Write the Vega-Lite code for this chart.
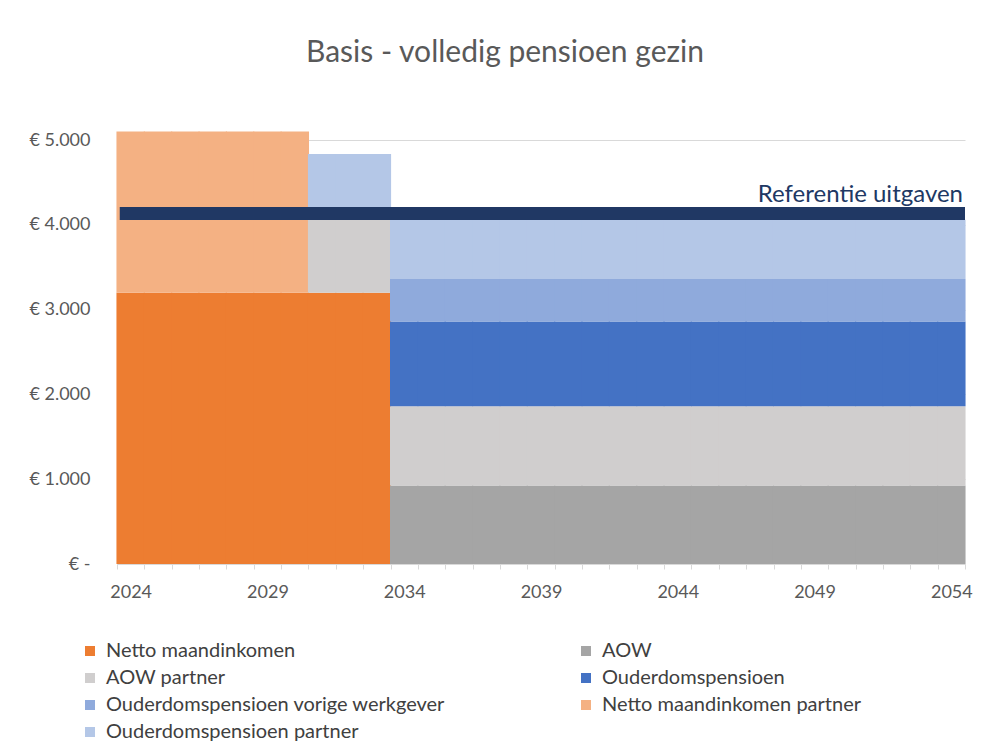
{
  "$schema": "https://vega.github.io/schema/vega-lite/v6.json",
  "width": 848,
  "height": 424,
  "autosize": {"type": "none"},
  "padding": {"left": 117, "top": 140, "right": 31, "bottom": 192},
  "background": "white",
  "config": {
    "font": "Lato",
    "view": {"stroke": null},
    "axis": {"labelFont": "Lato", "labelColor": "#595959", "gridColor": "#D9D9D9", "domainColor": "#D9D9D9", "tickColor": "#D9D9D9"},
    "axisX": {"labelOverlap": false}
  },
  "title": {
    "text": "Basis - volledig pensioen gezin",
    "font": "Lato",
    "fontSize": 30,
    "fontWeight": "normal",
    "color": "#595959",
    "anchor": "middle",
    "dx": -36,
    "offset": 63
  },
  "datasets": {
    "years": [
      {"year": 2024, "Netto maandinkomen": 3200, "AOW": 0, "AOW partner": 0, "Ouderdomspensioen": 0, "Ouderdomspensioen vorige werkgever": 0, "Netto maandinkomen partner": 1900, "Ouderdomspensioen partner": 0},
      {"year": 2025, "Netto maandinkomen": 3200, "AOW": 0, "AOW partner": 0, "Ouderdomspensioen": 0, "Ouderdomspensioen vorige werkgever": 0, "Netto maandinkomen partner": 1900, "Ouderdomspensioen partner": 0},
      {"year": 2026, "Netto maandinkomen": 3200, "AOW": 0, "AOW partner": 0, "Ouderdomspensioen": 0, "Ouderdomspensioen vorige werkgever": 0, "Netto maandinkomen partner": 1900, "Ouderdomspensioen partner": 0},
      {"year": 2027, "Netto maandinkomen": 3200, "AOW": 0, "AOW partner": 0, "Ouderdomspensioen": 0, "Ouderdomspensioen vorige werkgever": 0, "Netto maandinkomen partner": 1900, "Ouderdomspensioen partner": 0},
      {"year": 2028, "Netto maandinkomen": 3200, "AOW": 0, "AOW partner": 0, "Ouderdomspensioen": 0, "Ouderdomspensioen vorige werkgever": 0, "Netto maandinkomen partner": 1900, "Ouderdomspensioen partner": 0},
      {"year": 2029, "Netto maandinkomen": 3200, "AOW": 0, "AOW partner": 0, "Ouderdomspensioen": 0, "Ouderdomspensioen vorige werkgever": 0, "Netto maandinkomen partner": 1900, "Ouderdomspensioen partner": 0},
      {"year": 2030, "Netto maandinkomen": 3200, "AOW": 0, "AOW partner": 0, "Ouderdomspensioen": 0, "Ouderdomspensioen vorige werkgever": 0, "Netto maandinkomen partner": 1900, "Ouderdomspensioen partner": 0},
      {"year": 2031, "Netto maandinkomen": 3200, "AOW": 0, "AOW partner": 935, "Ouderdomspensioen": 0, "Ouderdomspensioen vorige werkgever": 0, "Netto maandinkomen partner": 0, "Ouderdomspensioen partner": 700},
      {"year": 2032, "Netto maandinkomen": 3200, "AOW": 0, "AOW partner": 935, "Ouderdomspensioen": 0, "Ouderdomspensioen vorige werkgever": 0, "Netto maandinkomen partner": 0, "Ouderdomspensioen partner": 700},
      {"year": 2033, "Netto maandinkomen": 3200, "AOW": 0, "AOW partner": 935, "Ouderdomspensioen": 0, "Ouderdomspensioen vorige werkgever": 0, "Netto maandinkomen partner": 0, "Ouderdomspensioen partner": 700},
      {"year": 2034, "Netto maandinkomen": 0, "AOW": 925, "AOW partner": 935, "Ouderdomspensioen": 1000, "Ouderdomspensioen vorige werkgever": 500, "Netto maandinkomen partner": 0, "Ouderdomspensioen partner": 700},
      {"year": 2035, "Netto maandinkomen": 0, "AOW": 925, "AOW partner": 935, "Ouderdomspensioen": 1000, "Ouderdomspensioen vorige werkgever": 500, "Netto maandinkomen partner": 0, "Ouderdomspensioen partner": 700},
      {"year": 2036, "Netto maandinkomen": 0, "AOW": 925, "AOW partner": 935, "Ouderdomspensioen": 1000, "Ouderdomspensioen vorige werkgever": 500, "Netto maandinkomen partner": 0, "Ouderdomspensioen partner": 700},
      {"year": 2037, "Netto maandinkomen": 0, "AOW": 925, "AOW partner": 935, "Ouderdomspensioen": 1000, "Ouderdomspensioen vorige werkgever": 500, "Netto maandinkomen partner": 0, "Ouderdomspensioen partner": 700},
      {"year": 2038, "Netto maandinkomen": 0, "AOW": 925, "AOW partner": 935, "Ouderdomspensioen": 1000, "Ouderdomspensioen vorige werkgever": 500, "Netto maandinkomen partner": 0, "Ouderdomspensioen partner": 700},
      {"year": 2039, "Netto maandinkomen": 0, "AOW": 925, "AOW partner": 935, "Ouderdomspensioen": 1000, "Ouderdomspensioen vorige werkgever": 500, "Netto maandinkomen partner": 0, "Ouderdomspensioen partner": 700},
      {"year": 2040, "Netto maandinkomen": 0, "AOW": 925, "AOW partner": 935, "Ouderdomspensioen": 1000, "Ouderdomspensioen vorige werkgever": 500, "Netto maandinkomen partner": 0, "Ouderdomspensioen partner": 700},
      {"year": 2041, "Netto maandinkomen": 0, "AOW": 925, "AOW partner": 935, "Ouderdomspensioen": 1000, "Ouderdomspensioen vorige werkgever": 500, "Netto maandinkomen partner": 0, "Ouderdomspensioen partner": 700},
      {"year": 2042, "Netto maandinkomen": 0, "AOW": 925, "AOW partner": 935, "Ouderdomspensioen": 1000, "Ouderdomspensioen vorige werkgever": 500, "Netto maandinkomen partner": 0, "Ouderdomspensioen partner": 700},
      {"year": 2043, "Netto maandinkomen": 0, "AOW": 925, "AOW partner": 935, "Ouderdomspensioen": 1000, "Ouderdomspensioen vorige werkgever": 500, "Netto maandinkomen partner": 0, "Ouderdomspensioen partner": 700},
      {"year": 2044, "Netto maandinkomen": 0, "AOW": 925, "AOW partner": 935, "Ouderdomspensioen": 1000, "Ouderdomspensioen vorige werkgever": 500, "Netto maandinkomen partner": 0, "Ouderdomspensioen partner": 700},
      {"year": 2045, "Netto maandinkomen": 0, "AOW": 925, "AOW partner": 935, "Ouderdomspensioen": 1000, "Ouderdomspensioen vorige werkgever": 500, "Netto maandinkomen partner": 0, "Ouderdomspensioen partner": 700},
      {"year": 2046, "Netto maandinkomen": 0, "AOW": 925, "AOW partner": 935, "Ouderdomspensioen": 1000, "Ouderdomspensioen vorige werkgever": 500, "Netto maandinkomen partner": 0, "Ouderdomspensioen partner": 700},
      {"year": 2047, "Netto maandinkomen": 0, "AOW": 925, "AOW partner": 935, "Ouderdomspensioen": 1000, "Ouderdomspensioen vorige werkgever": 500, "Netto maandinkomen partner": 0, "Ouderdomspensioen partner": 700},
      {"year": 2048, "Netto maandinkomen": 0, "AOW": 925, "AOW partner": 935, "Ouderdomspensioen": 1000, "Ouderdomspensioen vorige werkgever": 500, "Netto maandinkomen partner": 0, "Ouderdomspensioen partner": 700},
      {"year": 2049, "Netto maandinkomen": 0, "AOW": 925, "AOW partner": 935, "Ouderdomspensioen": 1000, "Ouderdomspensioen vorige werkgever": 500, "Netto maandinkomen partner": 0, "Ouderdomspensioen partner": 700},
      {"year": 2050, "Netto maandinkomen": 0, "AOW": 925, "AOW partner": 935, "Ouderdomspensioen": 1000, "Ouderdomspensioen vorige werkgever": 500, "Netto maandinkomen partner": 0, "Ouderdomspensioen partner": 700},
      {"year": 2051, "Netto maandinkomen": 0, "AOW": 925, "AOW partner": 935, "Ouderdomspensioen": 1000, "Ouderdomspensioen vorige werkgever": 500, "Netto maandinkomen partner": 0, "Ouderdomspensioen partner": 700},
      {"year": 2052, "Netto maandinkomen": 0, "AOW": 925, "AOW partner": 935, "Ouderdomspensioen": 1000, "Ouderdomspensioen vorige werkgever": 500, "Netto maandinkomen partner": 0, "Ouderdomspensioen partner": 700},
      {"year": 2053, "Netto maandinkomen": 0, "AOW": 925, "AOW partner": 935, "Ouderdomspensioen": 1000, "Ouderdomspensioen vorige werkgever": 500, "Netto maandinkomen partner": 0, "Ouderdomspensioen partner": 700},
      {"year": 2054, "Netto maandinkomen": 0, "AOW": 925, "AOW partner": 935, "Ouderdomspensioen": 1000, "Ouderdomspensioen vorige werkgever": 500, "Netto maandinkomen partner": 0, "Ouderdomspensioen partner": 700}
    ],
    "reference": [
      {"label": "Referentie uitgaven", "start": 2024, "end": 2054, "value": 4133}
    ]
  },
  "layer": [
    {
      "data": {"name": "years"},
      "transform": [
        {"fold": ["Netto maandinkomen", "AOW", "AOW partner", "Ouderdomspensioen", "Ouderdomspensioen vorige werkgever", "Netto maandinkomen partner", "Ouderdomspensioen partner"], "as": ["series", "value"]},
        {"filter": "datum.value > 0"},
        {"calculate": "indexof(['Netto maandinkomen', 'AOW', 'AOW partner', 'Ouderdomspensioen', 'Ouderdomspensioen vorige werkgever', 'Netto maandinkomen partner', 'Ouderdomspensioen partner'], datum.series)", "as": "seriesOrder"}
      ],
      "mark": {"type": "bar", "width": {"band": 1.04}, "strokeWidth": 0},
      "encoding": {
        "x": {
          "field": "year", "type": "ordinal",
          "scale": {"paddingInner": 0, "paddingOuter": 0},
          "axis": {
            "title": null,
            "labelExpr": "(datum.value - 2024) % 5 == 0 ? datum.label : ''",
            "labelAngle": 0,
            "grid": false,
            "tickBand": "extent",
            "tickSize": 5,
            "labelPadding": 14,
            "labelFontSize": 18,
            "labelOverlap": false
          }
        },
        "y": {
          "field": "value", "type": "quantitative", "stack": "zero",
          "scale": {"domain": [0, 5000], "nice": false},
          "axis": {
            "title": null,
            "values": [0, 1000, 2000, 3000, 4000, 5000],
            "labelExpr": "datum.value == 0 ? '€ -' : '€ ' + replace(format(datum.value, ','), ',', '.')",
            "domain": false,
            "ticks": false,
            "grid": true,
            "labelPadding": 27,
            "labelFontSize": 18
          }
        },
        "order": {"field": "seriesOrder", "type": "quantitative", "sort": "ascending"},
        "color": {
          "field": "series", "type": "nominal",
          "scale": {
            "domain": ["Netto maandinkomen", "AOW", "AOW partner", "Ouderdomspensioen", "Ouderdomspensioen vorige werkgever", "Netto maandinkomen partner", "Ouderdomspensioen partner"],
            "range": ["#ED7D31", "#A5A5A5", "#D0CECE", "#4472C4", "#8FAADC", "#F4B183", "#B4C7E7"]
          },
          "legend": {
            "title": null,
            "orient": "none",
            "legendX": -37,
            "legendY": 501,
            "columns": 2,
            "direction": "horizontal",
            "symbolType": "square",
            "symbolSize": 100,
            "symbolStrokeWidth": 0,
            "labelFont": "Lato",
            "labelFontSize": 20,
            "labelColor": "#404040",
            "labelOffset": 6,
            "labelLimit": 420,
            "columnPadding": 130,
            "rowPadding": 7
          }
        }
      }
    },
    {
      "data": {"name": "reference"},
      "mark": {"type": "rule", "strokeWidth": 13, "color": "#203864", "strokeCap": "butt"},
      "encoding": {
        "x": {"field": "start", "type": "ordinal", "bandPosition": 0.1},
        "x2": {"field": "end", "bandPosition": 1},
        "y": {"field": "value", "type": "quantitative"}
      }
    },
    {
      "data": {"name": "reference"},
      "mark": {"type": "text", "align": "right", "baseline": "alphabetic", "dy": -12, "dx": -2, "fontSize": 24, "color": "#203864", "font": "Lato"},
      "encoding": {
        "x": {"field": "end", "type": "ordinal", "bandPosition": 1},
        "y": {"field": "value", "type": "quantitative"},
        "text": {"field": "label"}
      }
    }
  ]
}
